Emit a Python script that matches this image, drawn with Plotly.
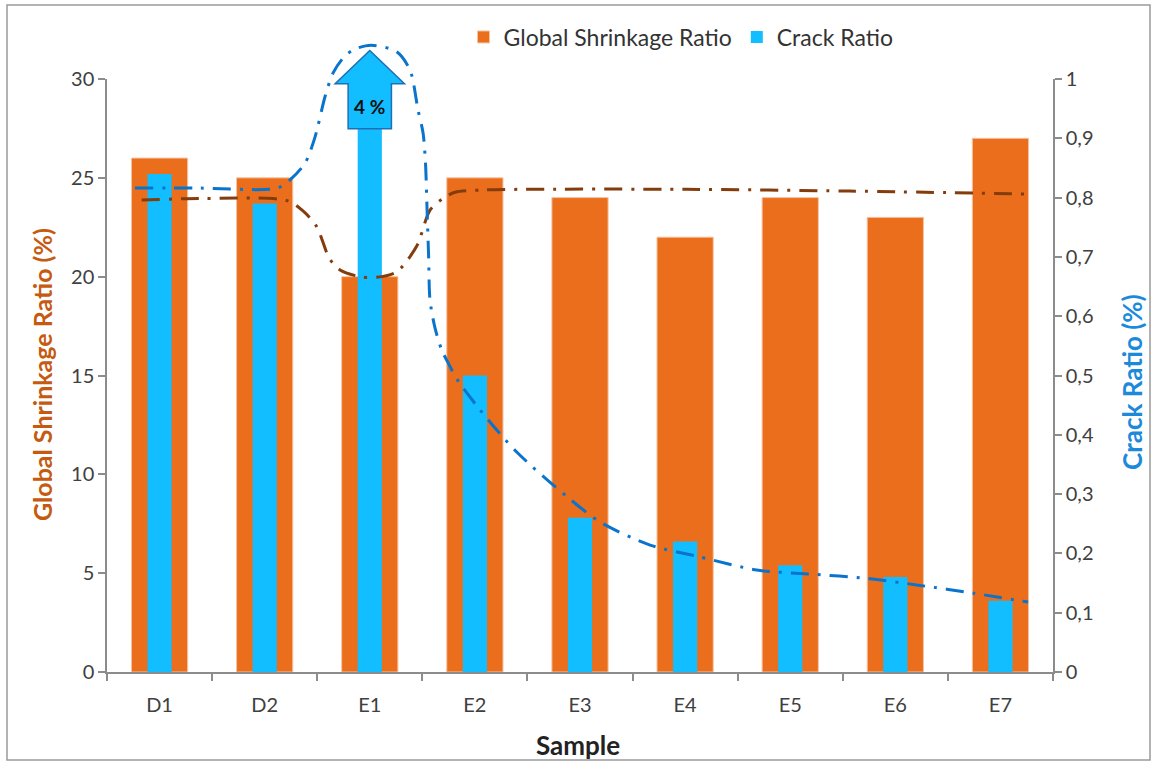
import plotly.graph_objects as go

# ---- data -------------------------------------------------------------
samples = ["D1", "D2", "E1", "E2", "E3", "E4", "E5", "E6", "E7"]
shrinkage = [26, 25, 20, 25, 24, 22, 24, 23, 27]          # Global Shrinkage Ratio (%)
crack = [0.84, 0.79, 4.0, 0.50, 0.26, 0.22, 0.18, 0.16, 0.12]  # Crack Ratio (%)

# hand-fitted trend curves (x in category units, 0 = D1)
shrink_trend_x = [-0.17, 0.385, 1.213, 1.362, 1.495, 1.615, 1.717, 1.907, 2.066,
                  2.256, 2.447, 2.573, 2.694, 2.811, 3.064, 3.449, 5.009, 6.560, 8.273]
shrink_trend_y = [23.88, 23.95, 23.85, 23.34, 22.53, 20.93, 20.34, 20.0, 19.97,
                  20.25, 21.55, 23.37, 23.95, 24.27, 24.38, 24.42, 24.42, 24.33, 24.18]

crack_trend_x = [-0.234, 0.385, 1.118, 1.241, 1.384, 1.479, 1.574, 1.650, 1.745, 1.841,
                 2.012, 2.256, 2.383, 2.459, 2.507, 2.530, 2.545, 2.560, 2.573, 2.621,
                 2.685, 2.764, 2.821, 3.049, 3.398, 3.874, 4.191, 4.667, 5.142, 5.682,
                 6.205, 6.728, 7.235, 7.740, 8.263]
crack_trend_y = [0.816, 0.816, 0.816, 0.83, 0.858, 0.902, 0.97, 1.01, 1.035, 1.049,
                 1.057, 1.046, 1.015, 0.948, 0.909, 0.858, 0.78, 0.70, 0.627, 0.58,
                 0.543, 0.515, 0.496, 0.442, 0.371, 0.296, 0.253, 0.214, 0.194, 0.172,
                 0.165, 0.158, 0.146, 0.133, 0.118]

shrink_ticks = [0, 5, 10, 15, 20, 25, 30]
crack_ticks = [0, 0.1, 0.2, 0.3, 0.4, 0.5, 0.6, 0.7, 0.8, 0.9, 1]

# ---- style ------------------------------------------------------------
ORANGE = "#EA6E1C"
CYAN = "#12BEFF"
BROWN = "#843C0C"
BLUE = "#0A74CC"
AXIS = "#8C8C8C"
TEXT = "#404040"
FONT = "Lato"

W, H = 1153, 767
ML, MR, MT, MB = 107, 100, 40, 95
paper_h = H - MT - MB
plot_h = 593                      # height of the 0..30 axis span
main_top = plot_h / paper_h       # domain top of the main axes

fig = go.Figure()

fig.add_trace(go.Bar(
    x=samples, y=shrinkage, name="Global Shrinkage Ratio",
    width=0.535, marker=dict(color=ORANGE, line=dict(color="#F6C4A2", width=1)),
    xaxis="x", yaxis="y",
))
fig.add_trace(go.Bar(
    x=samples, y=crack, name="Crack Ratio",
    width=0.23, marker=dict(color=CYAN, line=dict(width=0)),
    xaxis="x", yaxis="y2",
))
fig.add_trace(go.Scatter(
    x=shrink_trend_x, y=shrink_trend_y, mode="lines", showlegend=False,
    line=dict(color=BROWN, width=3, dash="18px,9px,3px,9px", shape="spline", smoothing=0.8),
    xaxis="x2", yaxis="y", hoverinfo="skip",
))
fig.add_trace(go.Scatter(
    x=crack_trend_x, y=crack_trend_y, mode="lines", showlegend=False,
    line=dict(color=BLUE, width=3, dash="18px,9px,3px,9px", shape="spline", smoothing=0.8),
    xaxis="x3", yaxis="y3", hoverinfo="skip",
))

# arrow marking the off-scale E1 crack value
i = samples.index("E1")
bw, hw = 0.206, 0.33
yb, yh, yt = 0.916, 0.992, 1.048
arrow = (f"M{i - bw},{yb} L{i - bw},{yh} L{i - hw},{yh} L{i},{yt} "
         f"L{i + hw},{yh} L{i + bw},{yh} L{i + bw},{yb} Z")

def px_x(p):
    return (p - ML) / (W - ML - MR)

def px_y(p):
    return (H - MB - p) / paper_h

shapes = [
    dict(type="path", path=arrow, xref="x3", yref="y3",
         fillcolor=CYAN, line=dict(color="#1F6FB5", width=1.5), layer="above"),
    dict(type="rect", xref="paper", yref="paper",
         x0=px_x(7), x1=px_x(1150), y0=px_y(760), y1=px_y(5),
         line=dict(color="#9A9A9A", width=1.5), fillcolor="rgba(0,0,0,0)", layer="below"),
]

centered = dict(showarrow=False, xanchor="center", yanchor="middle")
annotations = [
    dict(text=f"<b>{crack[i]:g} %</b>", x=i, y=0.954, xref="x3", yref="y3",
         font=dict(family=FONT, size=19, color="#111111"), **centered),
    dict(text="<b>Global Shrinkage Ratio (%)</b>", textangle=-90,
         x=px_x(42), y=px_y(375), xref="paper", yref="paper",
         font=dict(family=FONT, size=25, color="#C55A11", weight="bold"), **centered),
    dict(text="<b>Crack Ratio (%)</b>", textangle=-90,
         x=px_x(1132), y=px_y(382), xref="paper", yref="paper",
         font=dict(family=FONT, size=26, color="#1C8ADB"), **centered),
    dict(text="<b>Sample</b>", x=px_x(578), y=px_y(745), xref="paper", yref="paper",
         font=dict(family=FONT, size=26, color="#222222"), **centered),
]

tickfont = dict(family=FONT, size=20, color=TEXT)

fig.update_layout(
    width=W, height=H,
    margin=dict(l=ML, r=MR, t=MT, b=MB),
    paper_bgcolor="white", plot_bgcolor="rgba(0,0,0,0)",
    barmode="overlay", separators=", ",
    font=dict(family=FONT, size=20, color=TEXT),
    showlegend=True,
    legend=dict(orientation="h", x=px_x(681), xanchor="center", y=px_y(37), yanchor="middle",
                font=dict(family=FONT, size=23, color="#333333"), bgcolor="rgba(0,0,0,0)"),
    xaxis=dict(type="category", domain=[0, 1], range=[-0.5, 8.5], anchor="y",
               tickson="boundaries", ticks="outside", ticklen=7, tickcolor=AXIS, tickwidth=1.5,
               showline=True, linecolor=AXIS, linewidth=1.5, showgrid=False,
               ticklabelstandoff=14, tickfont=tickfont),
    yaxis=dict(domain=[0, main_top], range=[0, 30], anchor="x", tickvals=shrink_ticks,
               ticks="outside", ticklen=7, tickcolor=AXIS, tickwidth=1.5,
               showline=True, linecolor=AXIS, linewidth=1.5, showgrid=False, zeroline=False,
               tickfont=tickfont),
    yaxis2=dict(overlaying="y", side="right", range=[0, 1], anchor="x", tickvals=crack_ticks,
                ticks="outside", ticklen=7, tickcolor=AXIS, tickwidth=1.5,
                showline=True, linecolor=AXIS, linewidth=1.5, showgrid=False, zeroline=False,
                tickfont=tickfont),
    xaxis2=dict(overlaying="x", type="linear", range=[-0.5, 8.5], visible=False, anchor="y"),
    xaxis3=dict(domain=[0, 1], type="linear", range=[-0.5, 8.5], visible=False, anchor="y3"),
    yaxis3=dict(domain=[0, 1], range=[0, 1 / main_top], visible=False, anchor="x3"),
    shapes=shapes,
    annotations=annotations,
)

fig.write_html("out.html")
